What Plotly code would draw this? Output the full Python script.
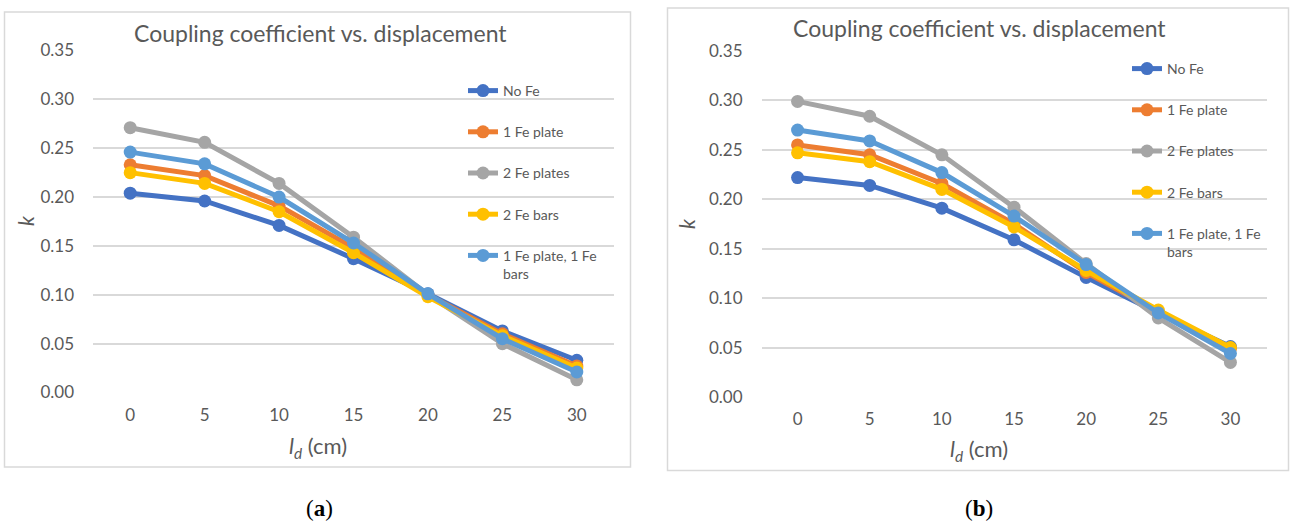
import plotly.graph_objects as go

W, H = 1290, 524

ld_cm = [0, 5, 10, 15, 20, 25, 30]
series_names = ["No Fe", "1 Fe plate", "2 Fe plates", "2 Fe bars", "1 Fe plate, 1 Fe bars"]
legend_labels = ["No Fe", "1 Fe plate", "2 Fe plates", "2 Fe bars", "1 Fe plate, 1 Fe<br>bars"]
colors = ["#4472C4", "#ED7D31", "#A5A5A5", "#FFC000", "#5B9BD5"]

# Panel (a)
k_a_no_fe = [0.204, 0.196, 0.171, 0.137, 0.101, 0.063, 0.033]
k_a_1_plate = [0.233, 0.222, 0.191, 0.148, 0.100, 0.060, 0.027]
k_a_2_plates = [0.271, 0.256, 0.214, 0.159, 0.100, 0.050, 0.013]
k_a_2_bars = [0.225, 0.214, 0.185, 0.143, 0.098, 0.058, 0.025]
k_a_plate_bar = [0.246, 0.234, 0.200, 0.153, 0.101, 0.055, 0.021]

# Panel (b)
k_b_no_fe = [0.222, 0.214, 0.191, 0.159, 0.121, 0.085, 0.051]
k_b_1_plate = [0.255, 0.245, 0.216, 0.175, 0.126, 0.086, 0.049]
k_b_2_plates = [0.299, 0.284, 0.245, 0.192, 0.135, 0.080, 0.035]
k_b_2_bars = [0.247, 0.238, 0.210, 0.172, 0.128, 0.088, 0.050]
k_b_plate_bar = [0.270, 0.259, 0.227, 0.183, 0.134, 0.085, 0.044]

panel_a = [k_a_no_fe, k_a_1_plate, k_a_2_plates, k_a_2_bars, k_a_plate_bar]
panel_b = [k_b_no_fe, k_b_1_plate, k_b_2_plates, k_b_2_bars, k_b_plate_bar]

chart_title = "Coupling coefficient vs. displacement"
y_ticks = [0, 0.05, 0.10, 0.15, 0.20, 0.25, 0.30, 0.35]

FONT = "Lato"
GREY = "#595959"
GRID = "#D9D9D9"


def px(x):
    return x / W


def py(y):
    return 1 - y / H


fig = go.Figure()

for panel, (xa, ya, leg) in zip([panel_a, panel_b], [("x", "y", "legend"), ("x2", "y2", "legend2")]):
    for i, vals in enumerate(panel):
        fig.add_trace(go.Scatter(
            x=ld_cm, y=vals, name=legend_labels[i], mode="lines+markers",
            line=dict(color=colors[i], width=5),
            marker=dict(color=colors[i], size=13),
            xaxis=xa, yaxis=ya, legend=leg, legendgroup=leg + str(i),
        ))

axis_common_x = dict(range=[-2.5, 32.5], tickvals=ld_cm, showgrid=False, zeroline=False,
                     showline=False, ticks="", tickfont=dict(family=FONT, size=17, color=GREY),
                     ticklabelstandoff=10, fixedrange=True, automargin=False)
axis_common_y = dict(range=[0, 0.35], tickvals=y_ticks, tickformat=".2f", showgrid=True,
                     gridcolor=GRID, gridwidth=1.5, zeroline=False, showline=False, ticks="",
                     tickfont=dict(family=FONT, size=17, color=GREY), ticklabelstandoff=18,
                     fixedrange=True, automargin=False)

legend_common = dict(font=dict(family=FONT, size=14, color=GREY), bgcolor="rgba(0,0,0,0)",
                     tracegroupgap=20, valign="top", xanchor="left", yanchor="top",
                     itemclick=False)

fig.update_layout(
    width=W, height=H,
    margin=dict(l=0, r=0, t=0, b=0, autoexpand=False),
    paper_bgcolor="white", plot_bgcolor="white",
    xaxis=dict(domain=[px(93), px(614)], anchor="y", **axis_common_x),
    yaxis=dict(domain=[py(392.5), py(50.5)], anchor="x", **axis_common_y),
    xaxis2=dict(domain=[px(761.5), px(1266.5)], anchor="y2", **axis_common_x),
    yaxis2=dict(domain=[py(397), py(51)], anchor="x2", **axis_common_y),
    legend=dict(x=px(463), y=py(75), **legend_common),
    legend2=dict(x=px(1127), y=py(53), **legend_common),
    showlegend=True,
)

shapes = [
    # frames
    dict(type="rect", xref="paper", yref="paper", x0=px(4.5), x1=px(630.5), y0=py(467), y1=py(12),
         line=dict(color=GRID, width=1.5), fillcolor="rgba(0,0,0,0)"),
    dict(type="rect", xref="paper", yref="paper", x0=px(667.5), x1=px(1288.5), y0=py(470.5), y1=py(8),
         line=dict(color=GRID, width=1.5), fillcolor="rgba(0,0,0,0)"),
    # legend backgrounds hiding gridlines
    dict(type="rect", xref="paper", yref="paper", x0=px(431), x1=px(616), y0=py(285), y1=py(70),
         line=dict(width=0), fillcolor="white", layer="between"),
    dict(type="rect", xref="paper", yref="paper", x0=px(1095), x1=px(1268), y0=py(275), y1=py(60),
         line=dict(width=0), fillcolor="white", layer="between"),
]

annotations = [
    dict(text=chart_title, x=px(320), y=py(33), xref="paper", yref="paper", showarrow=False,
         font=dict(family=FONT, size=23, color=GREY), xanchor="center", yanchor="middle"),
    dict(text=chart_title, x=px(979), y=py(28), xref="paper", yref="paper", showarrow=False,
         font=dict(family=FONT, size=23, color=GREY), xanchor="center", yanchor="middle"),
    dict(text="<i>k</i>", x=px(25), y=py(221), xref="paper", yref="paper", showarrow=False,
         textangle=-90, font=dict(family=FONT, size=21, color=GREY), xanchor="center", yanchor="middle"),
    dict(text="<i>k</i>", x=px(686), y=py(224), xref="paper", yref="paper", showarrow=False,
         textangle=-90, font=dict(family=FONT, size=21, color=GREY), xanchor="center", yanchor="middle"),
    dict(text="<i>l</i><sub><i>d</i></sub> (cm)", x=px(318), y=py(447), xref="paper", yref="paper",
         showarrow=False, font=dict(family=FONT, size=22, color=GREY), xanchor="center", yanchor="middle"),
    dict(text="<i>l</i><sub><i>d</i></sub> (cm)", x=px(979), y=py(450), xref="paper", yref="paper",
         showarrow=False, font=dict(family=FONT, size=22, color=GREY), xanchor="center", yanchor="middle"),
    dict(text="(<b>a</b>)", x=px(319), y=py(508), xref="paper", yref="paper", showarrow=False,
         font=dict(family="Liberation Serif", size=23, color="black"), xanchor="center", yanchor="middle"),
    dict(text="(<b>b</b>)", x=px(979), y=py(508), xref="paper", yref="paper", showarrow=False,
         font=dict(family="Liberation Serif", size=23, color="black"), xanchor="center", yanchor="middle"),
]

fig.update_layout(shapes=shapes, annotations=annotations)

post_js = ("document.body.style.margin='0';document.body.style.padding='0';"
           "document.documentElement.style.margin='0';document.documentElement.style.overflow='hidden';")

fig.write_html("out.html", config={"displayModeBar": False}, post_script=post_js)
